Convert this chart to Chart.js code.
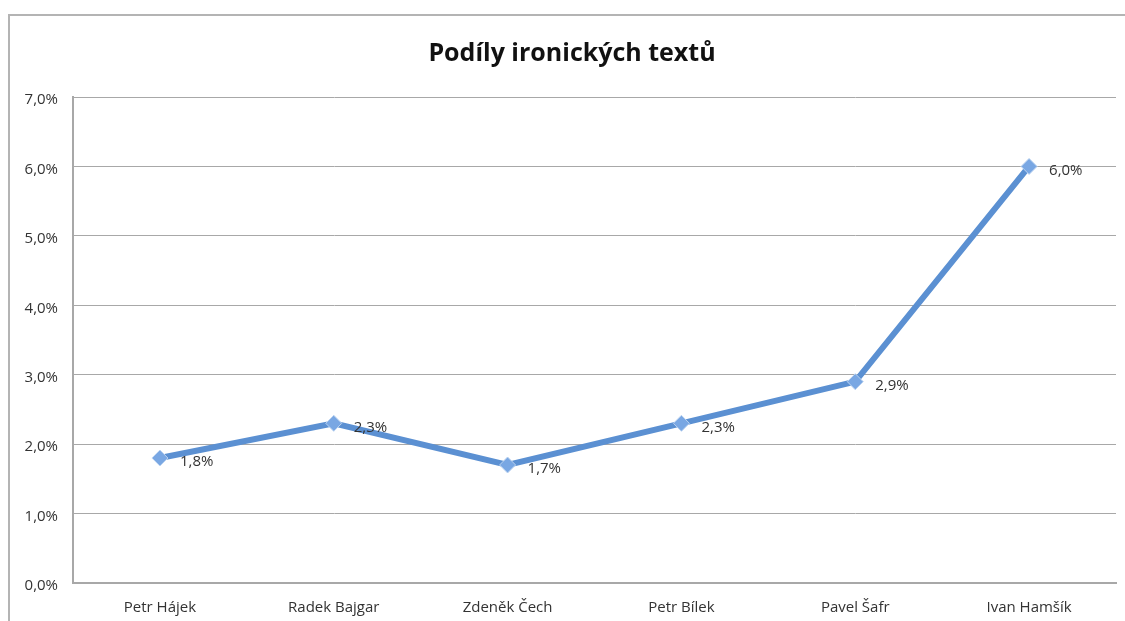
<!DOCTYPE html>
<html>
<head>
<meta charset="utf-8">
<script src="https://cdn.jsdelivr.net/npm/chart.js@4.4.0/dist/chart.umd.min.js"></script>
<style>
    html, body { margin: 0; padding: 0; background: #fff; }
    #wrap { position: relative; width: 1125px; height: 621px; overflow: hidden; }
    #frame { position: absolute; left: 8px; top: 14px; width: 1200px; height: 700px;
             border-left: 2px solid #b4b4b4; border-top: 2px solid #b4b4b4; }
    #chart { position: absolute; left: 0; top: 0; }
</style>
</head>
<body>
<div id="wrap">
    <div id="frame"></div>
    <canvas id="chart" width="1125" height="621"></canvas>
</div>
<script>
const titleText = 'Podíly ironických textů';
const categories = ['Petr Hájek', 'Radek Bajgar', 'Zdeněk Čech', 'Petr Bílek', 'Pavel Šafr', 'Ivan Hamšík'];
const shares = [1.8, 2.3, 1.7, 2.3, 2.9, 6.0];
const yTicks = [0, 1, 2, 3, 4, 5, 6, 7];

const fmtPct = v => v.toFixed(1).replace('.', ',') + '%';
const FONT = '"Open Sans", sans-serif';

// nadpis - vystředěný na celý rámeček, ne na plochu grafu
const chartTitle = {
    id: 'chartTitle',
    afterDraw(chart) {
        const ctx = chart.ctx;
        ctx.save();
        ctx.font = 'bold 25px ' + FONT;
        ctx.fillStyle = '#111';
        ctx.textAlign = 'center';
        ctx.textBaseline = 'middle';
        ctx.fillText(titleText, 572, 54);
        ctx.restore();
    }
};

// popisky hodnot vpravo od bodů
const valueLabels = {
    id: 'valueLabels',
    afterDatasetsDraw(chart) {
        const ctx = chart.ctx;
        const meta = chart.getDatasetMeta(0);
        ctx.save();
        ctx.font = '15px ' + FONT;
        ctx.fillStyle = '#333';
        ctx.textAlign = 'left';
        ctx.textBaseline = 'middle';
        meta.data.forEach((pt, i) => {
            ctx.fillText(fmtPct(shares[i]), pt.x + 20, pt.y + 4);
        });
        ctx.restore();
    }
};

new Chart(document.getElementById('chart').getContext('2d'), {
    type: 'line',
    data: {
        labels: categories,
        datasets: [{
            data: shares,
            borderColor: '#5b90d2',
            borderWidth: 6,
            pointStyle: 'rectRot',
            pointRadius: 8,
            pointBackgroundColor: '#79a7e3',
            pointBorderColor: '#bcd3f0',
            pointBorderWidth: 1,
            tension: 0
        }]
    },
    options: {
        responsive: false,
        animation: false,
        layout: { padding: { left: 0, right: 8, top: 97, bottom: 0 } },
        plugins: {
            legend: { display: false },
            tooltip: { enabled: false },
            title: { display: false }
        },
        scales: {
            x: {
                offset: true,
                grid: { display: false },
                border: { display: true, color: '#a8a8a8', width: 2 },
                ticks: { color: '#333', padding: 8, font: { family: FONT, size: 15 } },
                afterFit: s => { s.height = 38; }
            },
            y: {
                min: 0,
                max: 7,
                afterBuildTicks: s => { s.ticks = yTicks.map(v => ({ value: v })); },
                grid: { color: '#a8a8a8', lineWidth: 1, drawTicks: false },
                border: { display: true, color: '#a8a8a8', width: 2 },
                ticks: {
                    color: '#333',
                    padding: 15,
                    labelOffset: 3,
                    font: { family: FONT, size: 15 },
                    callback: v => fmtPct(v)
                },
                afterFit: s => { s.width = 73; }
            }
        }
    },
    plugins: [valueLabels, chartTitle]
});
</script>
</body>
</html>
